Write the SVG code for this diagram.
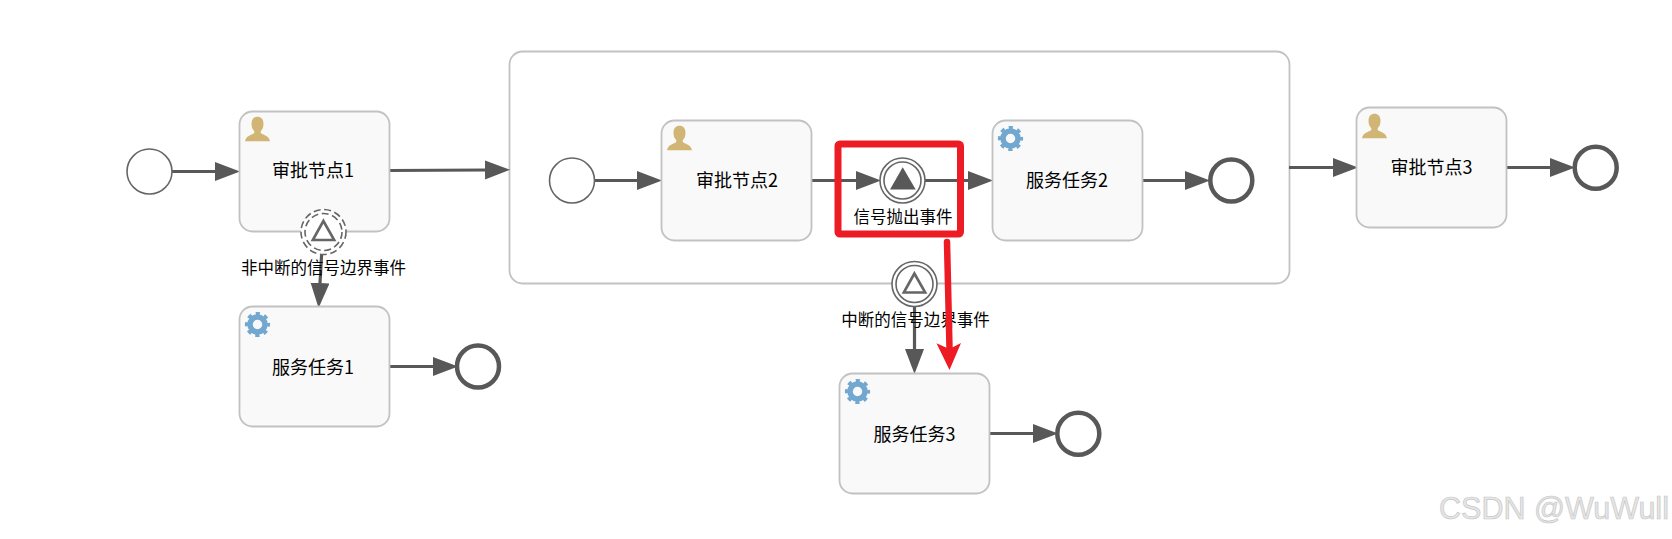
<svg xmlns="http://www.w3.org/2000/svg" xmlns:xlink="http://www.w3.org/1999/xlink" width="1672" height="539" viewBox="0 0 1672 539">
<style>
text{font-family:"Noto Sans CJK SC","Liberation Sans",sans-serif;fill:#000;text-anchor:middle}
.name{font-size:18px}
.lab{font-size:16.5px}
.task{fill:#f9f9f9;stroke:#c2c2c2;stroke-width:1.800}
.sub{fill:#fff;stroke:#c2c2c2;stroke-width:1.800}
.ev{fill:#fff;stroke:#666;stroke-width:1.600}
.ev2{fill:none;stroke:#666;stroke-width:1.600}
.dash{stroke-dasharray:7 3.600}
.end{fill:#fff;stroke:#585858;stroke-width:4.500}
.flow{fill:none;stroke:#585858;stroke-width:3.200;marker-end:url(#arrow)}
.tri{fill:none;stroke:#666;stroke-width:2.600;stroke-linejoin:miter}
.wm{font-family:"Liberation Sans",Arial,sans-serif;font-size:30.500px;fill:#e6e6e6;stroke:#c8c8c8;stroke-width:.7}
</style>
<defs>
<marker id="arrow" markerUnits="userSpaceOnUse" markerWidth="27" markerHeight="20" refX="0" refY="9.500" orient="auto"><path d="M0 0L25 9.500L0 19Z" fill="#585858"/></marker>
<g id="person"><path fill="#d1b574" d="M0 24.500C1 19 6 18.500 9 16.500C9.500 15.500 9.500 15 9 14C7 12 6.500 9.500 6.500 7C6.500 2.500 9 0 12.500 0C16 0 18.500 2.500 18.500 7C18.500 9.500 18 12 16 14C15.500 15 15.500 15.500 16 16.500C19 18.500 24 19 25 24.500Z"/></g>
<g id="gear" fill="none" stroke="#72a7d0"><circle r="7.500" stroke-width="5.500"/><circle r="11" stroke-width="3.200" stroke-dasharray="4.200 4.440" stroke-dashoffset="2.100"/></g>
</defs>
<rect width="1672" height="539" fill="#fff"/>
<g id="subprocess"><rect class="sub" x="509.500" y="51.500" width="780" height="232" rx="13"/></g>
<g id="connectors">
<path class="flow" d="M172 171.500H215"/>
<path class="flow" d="M389.500 170.500L485 170"/>
<path class="flow" d="M595 180.500H637"/>
<path class="flow" d="M812 180.500H856"/>
<path class="flow" d="M925 180.500H968"/>
<path class="flow" d="M1142 180.500H1185"/>
<path class="flow" d="M1289 167.500H1333"/>
<path class="flow" d="M1506 167.500H1550"/>
<path class="flow" d="M321.700 253L320 283"/>
<path class="flow" d="M389.500 366.500H433"/>
<path class="flow" d="M914.500 306V349"/>
<path class="flow" d="M989 433.500H1033"/>
</g>
<g id="start1"><circle class="ev" cx="149.500" cy="171.500" r="22.500"/></g>
<g id="task1"><rect class="task" x="239.500" y="111.500" width="150" height="120" rx="13"/><use href="#person" x="245" y="116.700"/><text class="name" x="313" y="177">审批节点1</text></g>
<g id="boundary1"><circle class="ev dash" cx="323.500" cy="232" r="22.500"/><circle class="ev2 dash" cx="323.500" cy="232" r="18.500"/><path class="tri" d="M323.400 221L312.800 240H334.200Z"/><text class="lab" x="323.500" y="274">非中断的信号边界事件</text></g>
<g id="task4"><rect class="task" x="239.500" y="306.500" width="150" height="120" rx="13"/><use href="#gear" x="257.500" y="324.500"/><text class="name" x="313" y="374">服务任务1</text></g>
<g id="end1"><circle class="end" cx="478" cy="366.500" r="21"/></g>
<g id="start2"><circle class="ev" cx="572" cy="180.500" r="22.500"/></g>
<g id="task2"><rect class="task" x="661.500" y="120.500" width="150" height="120" rx="13"/><use href="#person" x="667" y="125.700"/><text class="name" x="737" y="187">审批节点2</text></g>
<g id="throw"><circle class="ev" cx="902.500" cy="180.500" r="22.500"/><circle class="ev2" cx="902.500" cy="180.500" r="18.500"/><path d="M902.700 167.300L890 189.500H915.700Z" fill="#585858"/><text class="lab" x="903" y="223">信号抛出事件</text></g>
<g id="task5"><rect class="task" x="992.500" y="120.500" width="150" height="120" rx="13"/><use href="#gear" x="1010.500" y="138.500"/><text class="name" x="1067" y="187">服务任务2</text></g>
<g id="end2"><circle class="end" cx="1231.300" cy="180.500" r="21"/></g>
<g id="boundary2"><circle class="ev" cx="914.500" cy="284" r="22.500"/><circle class="ev2" cx="914.500" cy="284" r="18.500"/><path class="tri" d="M914.400 273.500L903.800 292.500H925.200Z"/><text class="lab" x="915.500" y="326">中断的信号边界事件</text></g>
<g id="task6"><rect class="task" x="839.500" y="373.500" width="150" height="120" rx="13"/><use href="#gear" x="857.500" y="391.500"/><text class="name" x="914.500" y="441">服务任务3</text></g>
<g id="end3"><circle class="end" cx="1078.300" cy="433.700" r="21"/></g>
<g id="task3"><rect class="task" x="1356.500" y="107.500" width="150" height="120" rx="13"/><use href="#person" x="1362" y="113.700"/><text class="name" x="1431.500" y="174">审批节点3</text></g>
<g id="end4"><circle class="end" cx="1595.700" cy="167.700" r="21"/></g>
<g id="annotation">
<rect x="838" y="144" width="122.500" height="90" rx="2" fill="none" stroke="#ed1c24" stroke-width="7"/>
<path d="M947 242L949.500 348" fill="none" stroke="#ed1c24" stroke-width="6.500" stroke-linecap="round"/>
<path d="M936.500 343.300L949.300 349L961 343L949.500 370Z" fill="#ed1c24"/>
</g>
<text class="wm" x="1554" y="519">CSDN @WuWull</text>
</svg>
